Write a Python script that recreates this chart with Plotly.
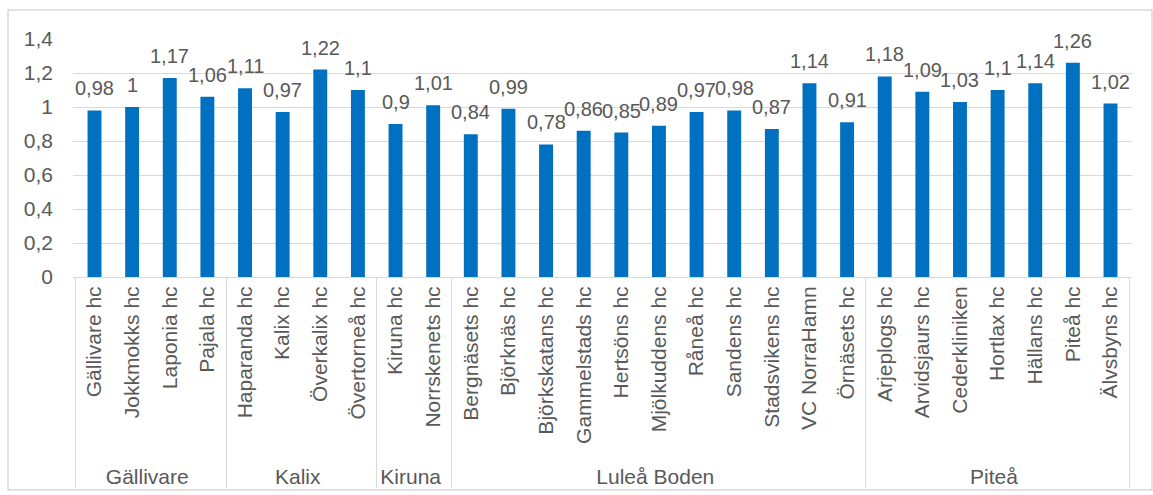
import plotly.graph_objects as go

groups = ["Gällivare"]*4 + ["Kalix"]*4 + ["Kiruna"]*2 + ["Luleå Boden"]*11 + ["Piteå"]*7
units = ["Gällivare hc", "Jokkmokks hc", "Laponia hc", "Pajala hc",
         "Haparanda hc", "Kalix hc", "Överkalix hc", "Övertorneå hc",
         "Kiruna hc", "Norrskenets hc",
         "Bergnäsets hc", "Björknäs hc", "Björkskatans hc", "Gammelstads hc", "Hertsöns hc",
         "Mjölkuddens hc", "Råneå hc", "Sandens hc", "Stadsvikens hc", "VC NorraHamn", "Örnäsets hc",
         "Arjeplogs hc", "Arvidsjaurs hc", "Cederkliniken", "Hortlax hc", "Hällans hc", "Piteå hc", "Älvsbyns hc"]
values = [0.98, 1.00, 1.17, 1.06,
          1.11, 0.97, 1.22, 1.10,
          0.90, 1.01,
          0.84, 0.99, 0.78, 0.86, 0.85, 0.89, 0.97, 0.98, 0.87, 1.14, 0.91,
          1.18, 1.09, 1.03, 1.10, 1.14, 1.26, 1.02]
labels = [("%g" % v).replace(".", ",") for v in values]

W, H = 1153, 495
L, R, T, B = 73, 21, 39, 218
pw = W - L - R
ph = H - T - B

fig = go.Figure(go.Bar(
    x=[groups, units], y=values,
    marker=dict(color="#0070C0", line=dict(width=0)),
    width=0.37, cliponaxis=False,
))

for i, (v, t) in enumerate(zip(values, labels)):
    fig.add_annotation(x=i, y=v, xref="x", yref="y", text=t, showarrow=False,
                       xanchor="center", yanchor="bottom", yshift=9,
                       font=dict(family="Liberation Sans, Arial", size=20, color="#595959"))

fig.update_layout(
    width=W, height=H, margin=dict(l=L, r=R, t=T, b=B, autoexpand=False),
    paper_bgcolor="white", plot_bgcolor="white",
    separators=", ",
    showlegend=False,
    font=dict(family="Liberation Sans, Arial", size=21, color="#595959"),
    bargap=0.63,
    xaxis=dict(type="multicategory", tickangle=-90, showline=True, linecolor="#d9d9d9",
               linewidth=1, ticks="", showdividers=True, dividercolor="#d9d9d9", dividerwidth=1,
               tickfont=dict(size=21, color="#595959"), automargin=False),
    yaxis=dict(range=[0, 1.4], dtick=0.2, showgrid=True, gridcolor="#d9d9d9", gridwidth=1,
               zeroline=False, showline=False, ticks="", ticklabelstandoff=19,
               tickfont=dict(size=21, color="#595959"), automargin=False),
)
fig.add_shape(type="rect", xref="paper", yref="paper",
              x0=(8 - L) / pw, x1=(1152 - L) / pw, y0=-(490 - T - ph) / ph, y1=1 + (T - 10) / ph,
              line=dict(color="#d9d9d9", width=1.5), layer="below")
fig.write_html("out.html")
